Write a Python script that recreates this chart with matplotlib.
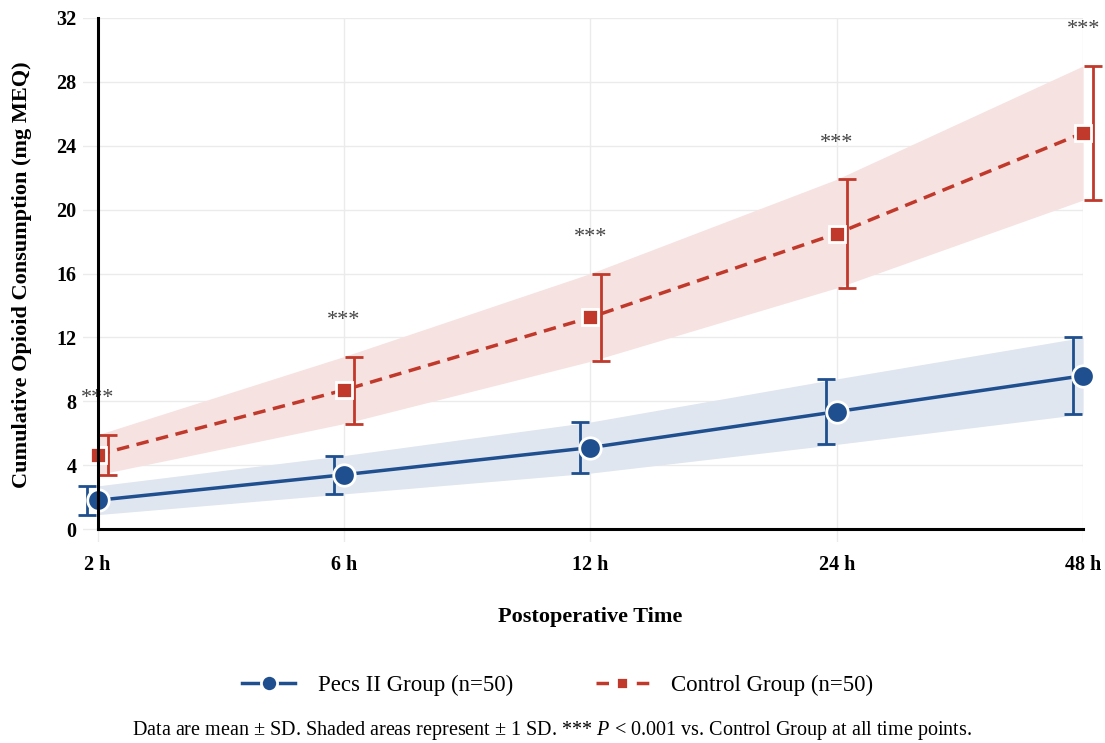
import matplotlib
matplotlib.use('Agg')
import matplotlib.pyplot as plt
import numpy as np

times = ['2 h', '6 h', '12 h', '24 h', '48 h']

pecs_mean = [1.8, 3.4, 5.1, 7.35, 9.6]
pecs_sd = [0.9, 1.2, 1.6, 2.05, 2.4]

control_mean = [4.65, 8.7, 13.25, 18.5, 24.8]
control_sd = [1.25, 2.1, 2.75, 3.4, 4.2]

y_ticks = [0, 4, 8, 12, 16, 20, 24, 28, 32]

blue = '#1f4f8e'
red = '#c0392b'
blue_band = '#dfe6ef'
red_band = '#f6e2e1'

plt.rcParams['font.family'] = ['Liberation Serif', 'DejaVu Serif']
plt.rcParams['mathtext.fontset'] = 'custom'
plt.rcParams['mathtext.rm'] = 'Liberation Serif'
plt.rcParams['mathtext.it'] = 'Liberation Serif:italic'

fig = plt.figure(figsize=(11.05, 7.43), dpi=100)
ax = fig.add_axes([0.0749, 0.2708, 0.9053, 0.7050])

# spines first: moving them resets the tick objects
for s in ['top', 'right']:
    ax.spines[s].set_visible(False)
ax.spines['left'].set_position(('data', 0))
ax.spines['bottom'].set_position(('data', 0))
ax.spines['left'].set_bounds(0, 32)
ax.spines['bottom'].set_bounds(0, 4)
ax.spines['left'].set_linewidth(2.2)
ax.spines['bottom'].set_linewidth(2.2)
ax.spines['left'].set_zorder(6)
ax.spines['bottom'].set_zorder(6)

x = np.arange(len(times))
pm = np.array(pecs_mean)
ps = np.array(pecs_sd)
cm = np.array(control_mean)
cs = np.array(control_sd)

# shaded +/- 1 SD
ax.fill_between(x, pm - ps, pm + ps, color=blue_band, lw=0, zorder=1)
ax.fill_between(x, cm - cs, cm + cs, color=red_band, lw=0, zorder=1)

# error bars, nudged a little to each side
off = 0.042
ax.errorbar(x - off, pm, yerr=ps, fmt='none', ecolor=blue, elinewidth=2,
            capsize=6.5, capthick=2, zorder=3, clip_on=False)
ax.errorbar(x + off, cm, yerr=cs, fmt='none', ecolor=red, elinewidth=2,
            capsize=6.5, capthick=2, zorder=3, clip_on=False)

ax.plot(x, pm, color=blue, lw=2.5, marker='o', markersize=15.5,
        markerfacecolor=blue, markeredgecolor='white', markeredgewidth=2,
        label='Pecs II Group (n=50)', zorder=4, clip_on=False)
ax.plot(x, cm, color=red, lw=2.5, ls=(0, (3.6, 2.2)), marker='s',
        markersize=11.5, markerfacecolor=red, markeredgecolor='white',
        markeredgewidth=2, label='Control Group (n=50)', zorder=4,
        clip_on=False)

# significance stars
for xi, top in zip(x, cm + cs):
    ax.text(xi, top + 2.25, '***', ha='center', va='center', fontsize=16,
            color='#444444', zorder=5, clip_on=False)

ax.set_xlim(-0.06, 4)
ax.set_ylim(-0.8, 32)
ax.set_xticks(x)
ax.set_xticklabels(times)
ax.set_yticks(y_ticks)
ax.set_yticklabels([str(v) for v in y_ticks])
ax.tick_params(axis='both', length=0, labelsize=14.5)
ax.tick_params(axis='y', pad=15)
ax.tick_params(axis='x', pad=19)
for lab in ax.get_xticklabels() + ax.get_yticklabels():
    lab.set_fontweight('bold')

ax.grid(True, color='#ebebeb', lw=1)
ax.set_axisbelow(True)

ax.set_xlabel('Postoperative Time', fontsize=16, fontweight='bold')
ax.xaxis.set_label_coords(0.507, -0.1436)
ax.xaxis.label.set_va('center')
ax.set_ylabel('Cumulative Opioid Consumption (mg MEQ)', fontsize=16,
              fontweight='bold')
ax.yaxis.set_label_coords(-0.0607, 0.509)
ax.yaxis.label.set_va('center')

fig.legend(loc='center', bbox_to_anchor=(0.505, 1 - 685 / 743), ncol=2,
           frameon=False, fontsize=16.5, handlelength=2.3, columnspacing=3.6,
           markerscale=0.75, handletextpad=1.0)

fig.text(0.5, 1 - 730 / 743,
         'Data are mean \u00b1 SD. Shaded areas represent \u00b1 1 SD. '
         '*** $P$ < 0.001 vs. Control Group at all time points.',
         ha='center', va='center', fontsize=14.5)

fig.savefig('out.png', dpi=100)
